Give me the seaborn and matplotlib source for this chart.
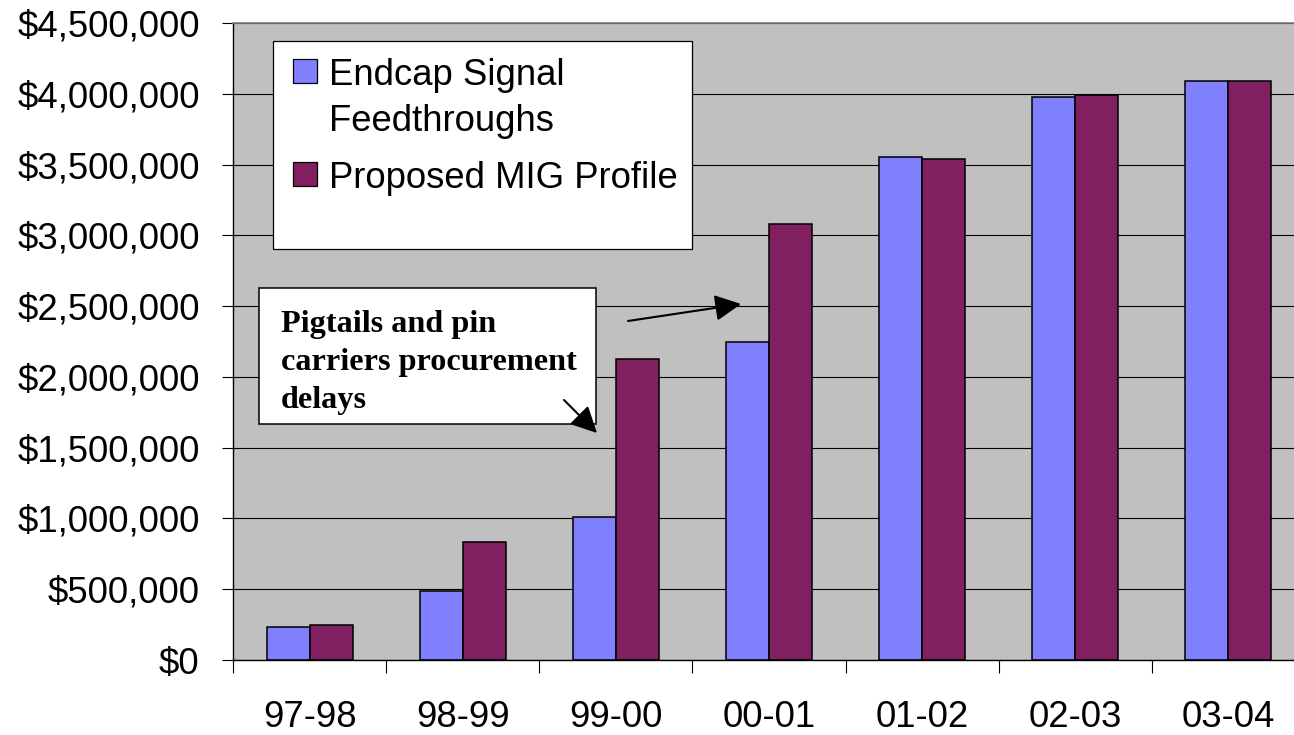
import matplotlib
matplotlib.use("Agg")
import matplotlib.pyplot as plt
from matplotlib.patches import Rectangle, FancyArrowPatch
from matplotlib.ticker import FuncFormatter, FixedLocator
import numpy as np
import pandas as pd
import seaborn as sns

# Fiscal periods and annual cost for each funding profile (US dollars)
periods = ["97-98", "98-99", "99-00", "00-01", "01-02", "02-03", "03-04"]
endcap_feedthroughs = [235000, 490000, 1010000, 2250000, 3555000, 3975000, 4090000]
proposed_mig = [247000, 833000, 2124000, 3080000, 3540000, 3988000, 4090000]
series_names = ["Endcap Signal Feedthroughs", "Proposed MIG Profile"]
legend_labels = ["Endcap Signal\nFeedthroughs", "Proposed MIG Profile"]
note_text = "Pigtails and pin\ncarriers procurement\ndelays"

colors = ["#8080FF", "#802060"]
plot_bg = "#C0C0C0"

df = pd.DataFrame({
    "period": periods * 2,
    "cost": endcap_feedthroughs + proposed_mig,
    "series": [series_names[0]] * len(periods) + [series_names[1]] * len(periods),
})

sns.set_theme(style="white")
plt.rcParams["font.family"] = ["Liberation Sans", "DejaVu Sans"]
plt.rcParams["text.color"] = "black"
plt.rcParams["xtick.color"] = "black"
plt.rcParams["ytick.color"] = "black"
plt.rcParams["xtick.labelcolor"] = "black"
plt.rcParams["ytick.labelcolor"] = "black"

W, H = 1294, 735
fig = plt.figure(figsize=(W / 100, H / 100), dpi=100)
fig.patch.set_facecolor("white")


def fx(x):
    return x / W


def fy(y):
    return 1 - y / H


# Plot area runs past the right edge of the canvas
ax = fig.add_axes([fx(233), fy(660), (1305 - 233) / W, (660 - 23) / H])
ax.set_facecolor(plot_bg)

sns.barplot(
    data=df, x="period", y="cost", hue="series", hue_order=series_names,
    order=periods, palette=colors, width=0.562, gap=0, saturation=1,
    edgecolor="black", linewidth=1.1, errorbar=None, legend=False, ax=ax,
)

ax.set_ylim(0, 4_500_000)
ax.set_xlim(-0.5, len(periods) - 0.5)
ax.set_xlabel("")
ax.set_ylabel("")

# Gridlines
ax.yaxis.grid(True, color="black", linewidth=0.8)
ax.xaxis.grid(False)
ax.set_axisbelow(True)

# Y axis
ax.yaxis.set_major_locator(FixedLocator(np.arange(0, 4_500_001, 500_000)))
ax.yaxis.set_major_formatter(FuncFormatter(lambda v, _: f"${v:,.0f}"))
ax.tick_params(axis="y", which="major", direction="out", length=8, width=0.8,
               color="black", labelcolor="black", pad=16, labelsize=26.3,
               left=True)

# X axis: tick marks between categories, labels centred under groups
ax.xaxis.set_major_locator(FixedLocator(np.arange(-0.5, len(periods), 1.0)))
ax.xaxis.set_minor_locator(FixedLocator(np.arange(len(periods))))
ax.set_xticklabels([], minor=False)
ax.set_xticklabels(periods, minor=True)
ax.tick_params(axis="x", which="major", direction="out", length=9, width=0.8,
               color="black", bottom=True)
ax.tick_params(axis="x", which="minor", length=0, pad=29, labelsize=26.3,
               labelcolor="black")

for side in ("left", "bottom"):
    ax.spines[side].set_color("black")
    ax.spines[side].set_linewidth(1.0)
ax.spines["top"].set_color("#808080")
ax.spines["top"].set_linewidth(1.2)
ax.spines["right"].set_visible(False)

# Legend box
fig.add_artist(Rectangle((fx(273), fy(249)), (692 - 273) / W, (249 - 41) / H,
                         transform=fig.transFigure, facecolor="white",
                         edgecolor="black", linewidth=0.9, zorder=4))
legend_rows = [59, 162]
for color, label, top in zip(colors, legend_labels, legend_rows):
    fig.add_artist(Rectangle((fx(293), fy(top + 24)), 24 / W, 24 / H,
                             transform=fig.transFigure, facecolor=color,
                             edgecolor="black", linewidth=0.9, zorder=5))
    fig.text(fx(329), fy(top - 1), label, ha="left", va="top", fontsize=26.3,
             linespacing=1.40, zorder=6)

# Annotation box
fig.add_artist(Rectangle((fx(259), fy(424)), (596 - 259) / W, (424 - 288) / H,
                         transform=fig.transFigure, facecolor="white",
                         edgecolor="black", linewidth=1.1, zorder=4))
fig.text(fx(281), fy(310), note_text, ha="left", va="top", fontsize=23.2,
         family=["Liberation Serif", "DejaVu Serif"], fontweight="bold",
         linespacing=1.42, zorder=6)

# Arrows pointing at the delayed years, drawn above the boxes
arrow_kw = dict(arrowstyle="-|>,head_length=0.8,head_width=0.4",
                color="black", lw=1.5, shrinkA=0, shrinkB=0,
                mutation_scale=20, transform=fig.transFigure, zorder=8)
for tail, tip in [((628, 321), (741, 304)), ((564, 400), (597, 433))]:
    fig.add_artist(FancyArrowPatch((fx(tail[0]), fy(tail[1])),
                                   (fx(tip[0]), fy(tip[1])), **arrow_kw))

fig.savefig("out.png", dpi=100, facecolor="white")
